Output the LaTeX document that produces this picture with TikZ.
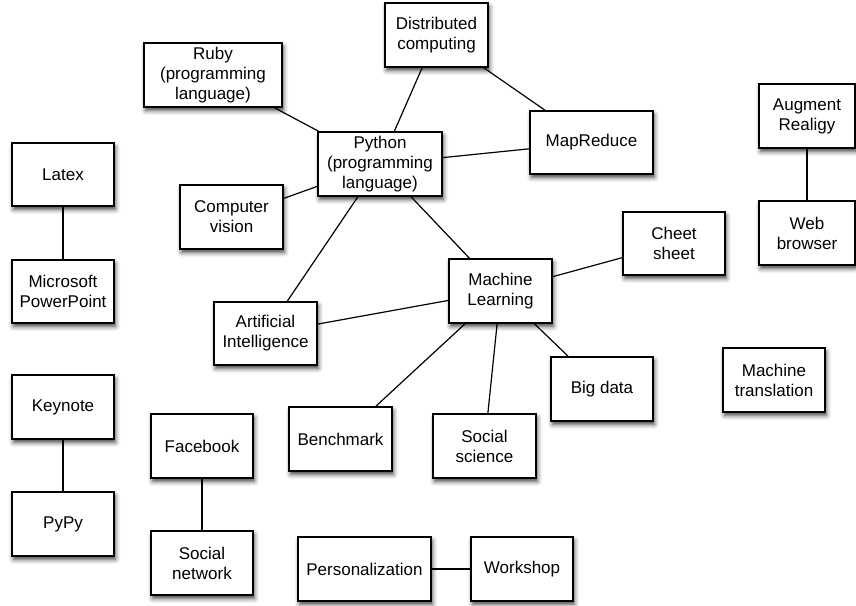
\documentclass[tikz,border=0pt]{standalone}
\usepackage{fontspec}
\setmainfont{Liberation Sans}
\usetikzlibrary{shadows.blur}
\begin{document}
\begin{tikzpicture}[x=1pt,y=-1pt,
  box/.style={draw=black, line width=1.4pt, fill=white, align=center,
    inner sep=0pt, minimum width=103pt, minimum height=64pt,
    font=\fontsize{17}{20}\selectfont,
    blur shadow={shadow xshift=1.5pt, shadow yshift=-3.5pt,
      shadow blur radius=4.5pt, shadow opacity=75}},
  link/.style={draw=black, line width=1.2pt}]
\useasboundingbox (0,0) rectangle (856,605);

% topic boxes
\node[box] (dist) at (436.5,35) {Distributed\\computing};
\node[box, minimum width=138pt] (ruby) at (213,75) {Ruby\\(programming\\language)};
\node[box, minimum width=124pt] (python) at (380,164) {Python\\(programming\\language)};
\node[box, minimum width=123pt, minimum height=63pt] (mapreduce) at (591.5,142.5) {MapReduce};
\node[box, minimum width=96pt] (augment) at (807,116) {Augment\\Realigy};
\node[box, minimum width=96pt] (web) at (807,233) {Web\\browser};
\node[box, minimum width=102pt, minimum height=63pt] (latex) at (63,174.5) {Latex};
\node[box, minimum width=102pt, minimum height=63pt] (ppt) at (63,291.5) {Microsoft\\PowerPoint};
\node[box] (cv) at (231.5,217) {Computer\\vision};
\node[box, minimum width=102pt, minimum height=63pt] (cheet) at (674,243.5) {Cheet\\sheet};
\node[box] (ml) at (500.5,291) {Machine\\Learning};
\node[box, minimum height=63pt] (ai) at (265.5,333.5) {Artificial\\Intelligence};
\node[box, minimum width=102pt] (bigdata) at (602,389) {Big data};
\node[box, minimum width=102pt] (mt) at (774,380) {Machine\\translation};
\node[box] (bench) at (340.5,439) {Benchmark};
\node[box] (socsci) at (484.5,446) {Social\\science};
\node[box, minimum width=102pt] (keynote) at (63,407) {Keynote};
\node[box, minimum width=102pt] (pypy) at (63,524) {PyPy};
\node[box, minimum width=102pt] (facebook) at (202,446) {Facebook};
\node[box, minimum width=102pt] (socnet) at (202,563) {Social\\network};
\node[box, minimum width=133pt] (person) at (364.5,569) {Personalization};
\node[box, minimum width=102pt] (workshop) at (522,569) {Workshop};

% connections
\draw[link] (ruby) -- (python);
\draw[link] (dist) -- (python);
\draw[link] (dist) -- (mapreduce);
\draw[link] (python) -- (mapreduce);
\draw[link] (python) -- (cv);
\draw[link] (python) -- (ml);
\draw[link] (python) -- (ai);
\draw[link] (ml) -- (ai);
\draw[link] (ml) -- (cheet);
\draw[link] (ml) -- (bench);
\draw[link] (ml) -- (socsci);
\draw[link] (ml) -- (bigdata);
\draw[link] (latex) -- (ppt);
\draw[link] (keynote) -- (pypy);
\draw[link] (facebook) -- (socnet);
\draw[link] (person) -- (workshop);
\draw[link] (augment) -- (web);
\end{tikzpicture}
\end{document}
